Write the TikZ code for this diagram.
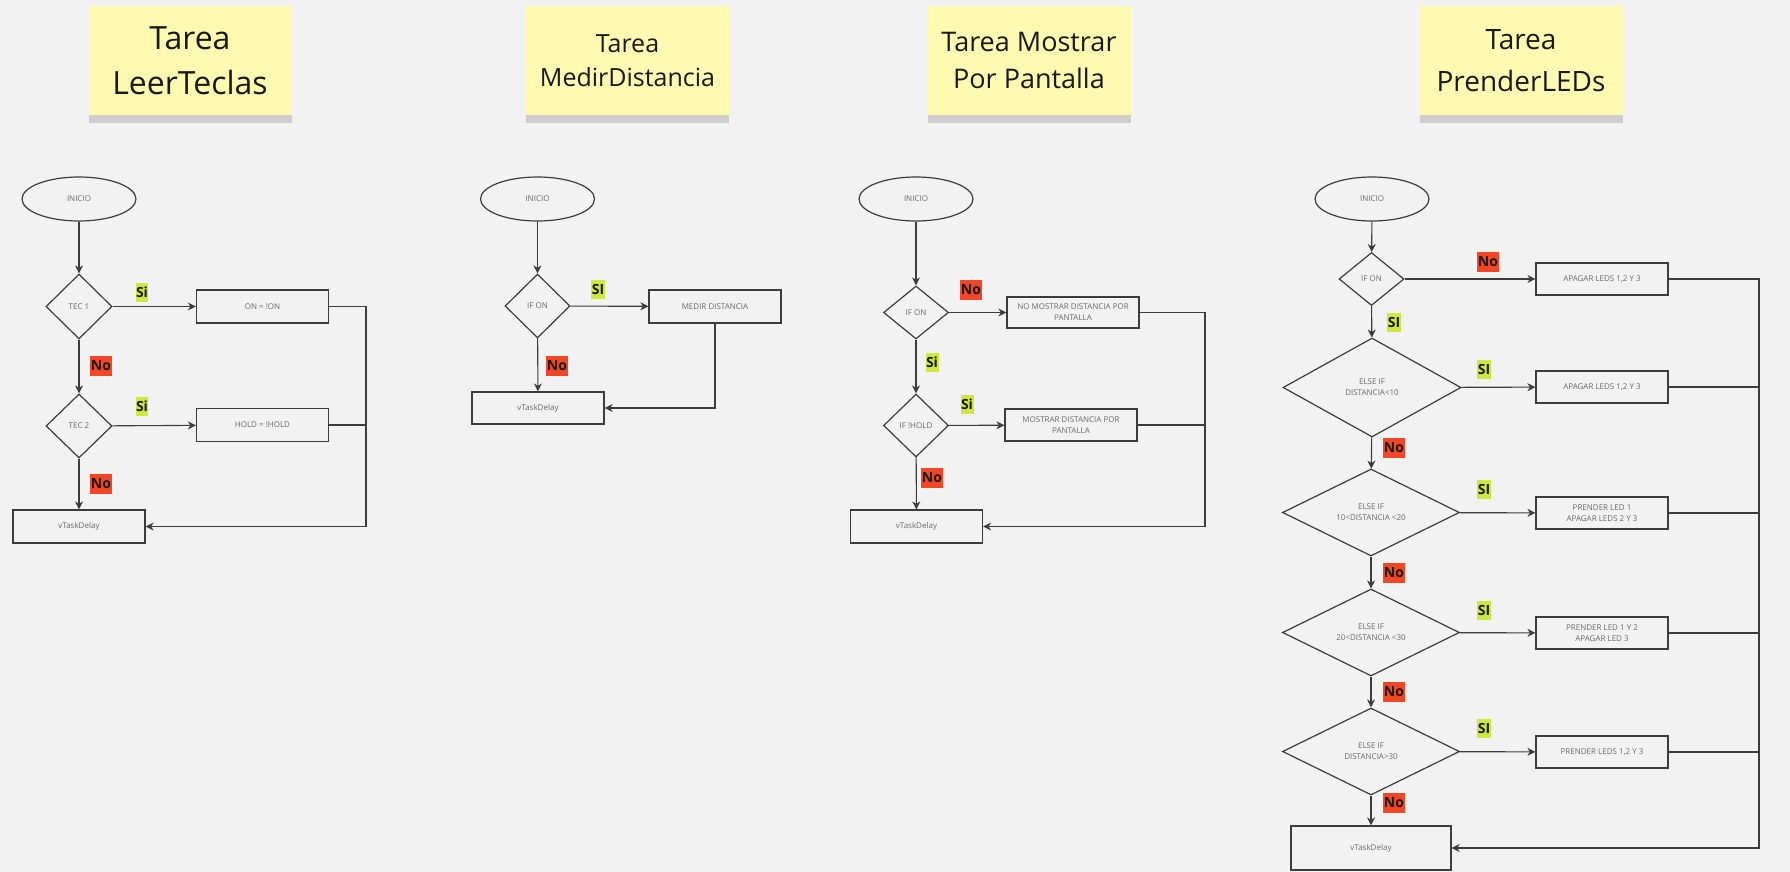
\documentclass[tikz,border=0pt]{standalone}
\usepackage{fontspec}
\setmainfont{Open Sans}
\usetikzlibrary{shapes.geometric, arrows.meta, shadows}

\definecolor{bgc}{HTML}{F2F2F2}
\definecolor{linec}{HTML}{3C3C3C}
\definecolor{textc}{HTML}{6A6A6A}
\definecolor{notey}{HTML}{FFF9B1}
\definecolor{sigreen}{HTML}{CEE741}
\definecolor{nored}{HTML}{F24726}

\newcommand\boxfont{\fontsize{8}{11}\selectfont}
\newcommand\tagfont{\fontsize{14}{16}\selectfont\bfseries}

\begin{document}
\begin{tikzpicture}[x = 1pt, y = -1pt,
                    startnode/.style = {ellipse, draw = linec, line width = 1.2pt, minimum width = 114pt, minimum height = 44pt, font = \boxfont, text = textc},
                    decision/.style = {diamond, aspect = 2, draw = linec, line width = 1.2pt, inner sep = 0pt, font = \boxfont, text = textc, align = center},
                    process/.style = {rectangle, draw = linec, line width = 1.2pt, minimum width = 132pt, minimum height = 33pt, inner sep = 0pt, font = \boxfont, text = textc, align = center},
                    sitag/.style = {fill = sigreen, font = \tagfont, text = black!90, inner xsep = 0.5pt, inner ysep = 0pt, minimum height = 19pt},
                    notag/.style = {fill = nored, font = \tagfont, text = black!90, inner xsep = 0.5pt, inner ysep = 0pt, minimum height = 20pt},
                    flow/.style = {draw = linec, line width = 1.1pt, -{Stealth[length = 8pt, width = 8pt, inset = 2.5pt]}},
                    link/.style = {draw = linec, line width = 1.1pt},
                    note/.style = {fill = notey, minimum width = 203pt, minimum height = 109pt, align = center, text = black!90,
                                   drop shadow = {shadow xshift = 0pt, shadow yshift = -8pt, opacity = 0.32}}]
      \fill [bgc] (0, 0) rectangle (1790, 872);
      \useasboundingbox (0, 0) rectangle (1790, 872);

      % titles
      \node [note, font = \fontsize{32}{45}\selectfont] (N1) at (190, 60.5) {Tarea\\LeerTeclas};
      \node [note, font = \fontsize{25}{34}\selectfont] (N2) at (627.5, 60.5) {Tarea\\MedirDistancia};
      \node [note, font = \fontsize{27}{37}\selectfont] (N3) at (1029, 60.5) {Tarea Mostrar\\Por Pantalla};
      \node [note, font = \fontsize{28}{42}\selectfont] (N4) at (1521, 60.5) {Tarea\\PrenderLEDs};

      % LeerTeclas
      \node [startnode] (S1) at (79, 199) {INICIO};
      \node [decision, minimum width = 66pt, minimum height = 65pt] (D1) at (79, 306.5) {TEC 1};
      \node [process] (P1) at (262.5, 306.5) {ON = !ON};
      \node [decision, minimum width = 66pt, minimum height = 64pt] (D2) at (79, 426) {TEC 2};
      \node [process] (P2) at (262.5, 425) {HOLD = !HOLD};
      \node [process] (E1) at (79, 526.5) {vTaskDelay};
      \coordinate (J1) at (366, 306.5);
      \coordinate (K1) at (366, 526.5);

      \node [sitag] (L1) at (142, 292) {Si};
      \node [notag] (L2) at (101, 366) {No};
      \node [sitag] (L3) at (142, 406) {Si};
      \node [notag] (L4) at (101, 484) {No};

      \draw [flow] (S1) -- (D1);
      \draw [flow] (D1) -- (P1);
      \draw [flow] (D1) -- (D2);
      \draw [flow] (D2) -- (P2);
      \draw [flow] (D2) -- (E1);
      \draw [flow] (P1) -- (J1) -- (K1) -- (E1);
      \draw [link] (P2) -- (P2 -| J1);

      % MedirDistancia
      \node [startnode] (S2) at (537.5, 199) {INICIO};
      \node [decision, minimum width = 65pt, minimum height = 64pt] (D3) at (537.5, 306) {IF ON};
      \node [process] (P3) at (715, 306.5) {MEDIR DISTANCIA};
      \node [process, minimum height = 32pt] (E2) at (538, 408) {vTaskDelay};

      \node [sitag] (L5) at (598, 289) {SI};
      \node [notag] (L6) at (557, 366) {No};

      \draw [flow] (S2) -- (D3);
      \draw [flow] (D3) -- (P3);
      \draw [flow] (D3) -- (E2);
      \draw [flow] (P3) |- (E2);

      % Mostrar Por Pantalla
      \node [startnode] (S3) at (916, 199) {INICIO};
      \node [decision, minimum width = 65pt, minimum height = 53pt] (D4) at (916, 312.5) {IF ON};
      \node [process, minimum height = 31pt] (P4) at (1073, 312.5) {NO MOSTRAR DISTANCIA POR\\PANTALLA};
      \node [decision, minimum width = 65pt, minimum height = 63pt] (D5) at (916, 425.5) {IF !HOLD};
      \node [process, minimum height = 32pt] (P5) at (1071, 425) {MOSTRAR DISTANCIA POR\\PANTALLA};
      \node [process] (E3) at (916.5, 526.5) {vTaskDelay};
      \coordinate (J3) at (1205, 312.5);
      \coordinate (K3) at (1205, 526.5);

      \node [notag] (L7) at (971, 290) {No};
      \node [sitag] (L8) at (932, 362) {Si};
      \node [sitag] (L9) at (967, 404) {Si};
      \node [notag] (L10) at (932, 478) {No};

      \draw [flow] (S3) -- (D4);
      \draw [flow] (D4) -- (P4);
      \draw [flow] (D4) -- (D5);
      \draw [flow] (D5) -- (P5);
      \draw [flow] (D5) -- (E3);
      \draw [flow] (P4) -- (J3) -- (K3) -- (E3);
      \draw [link] (P5) -- (P5 -| J3);

      % PrenderLEDs
      \node [startnode] (S4) at (1372, 199) {INICIO};
      \node [decision, minimum width = 65pt, minimum height = 53pt] (D6) at (1371.5, 279) {IF ON};
      \node [process, minimum height = 32pt] (P6) at (1602, 279) {APAGAR LEDS 1,2 Y 3};
      \node [decision, minimum width = 178pt, minimum height = 99pt] (D7) at (1372, 387.5) {ELSE IF\\DISTANCIA<10};
      \node [process, minimum height = 32pt] (P7) at (1602, 387) {APAGAR LEDS 1,2 Y 3};
      \node [decision, minimum width = 177pt, minimum height = 87pt] (D8) at (1371, 512.5) {ELSE IF\\10<DISTANCIA <20};
      \node [process, minimum height = 32pt] (P8) at (1602, 513) {PRENDER LED 1\\APAGAR LEDS 2 Y 3};
      \node [decision, minimum width = 177pt, minimum height = 87pt] (D9) at (1371, 632.5) {ELSE IF\\20<DISTANCIA <30};
      \node [process, minimum height = 32pt] (P9) at (1602, 633) {PRENDER LED 1 Y 2\\APAGAR LED 3};
      \node [decision, minimum width = 177pt, minimum height = 87pt] (D10) at (1371, 751.5) {ELSE IF\\DISTANCIA>30};
      \node [process, minimum height = 32pt] (P10) at (1602, 752) {PRENDER LEDS 1,2 Y 3};
      \node [process, minimum width = 160pt, minimum height = 44pt] (E4) at (1371, 848) {vTaskDelay};
      \coordinate (J4) at (1759, 279);
      \coordinate (K4) at (1759, 848);

      \node [notag] (L11) at (1488, 262) {No};
      \node [sitag] (L12) at (1394, 322) {SI};
      \node [sitag] (L13) at (1484, 369) {SI};
      \node [notag] (L14) at (1394, 448) {No};
      \node [sitag] (L15) at (1484, 489) {SI};
      \node [notag] (L16) at (1394, 573) {No};
      \node [sitag] (L17) at (1484, 610) {SI};
      \node [notag] (L18) at (1394, 692) {No};
      \node [sitag] (L19) at (1484, 728) {SI};
      \node [notag] (L20) at (1394, 803) {No};

      \draw [flow] (S4) -- (D6);
      \draw [flow] (D6) -- (P6);
      \draw [flow] (D6) -- (D7);
      \draw [flow] (D7) -- (P7);
      \draw [flow] (D7) -- (D8);
      \draw [flow] (D8) -- (P8);
      \draw [flow] (D8) -- (D9);
      \draw [flow] (D9) -- (P9);
      \draw [flow] (D9) -- (D10);
      \draw [flow] (D10) -- (P10);
      \draw [flow] (D10) -- (E4);
      \draw [flow] (P6) -- (J4) -- (K4) -- (E4);
      \draw [link] (P7) -- (P7 -| J4);
      \draw [link] (P8) -- (P8 -| J4);
      \draw [link] (P9) -- (P9 -| J4);
      \draw [link] (P10) -- (P10 -| J4);
\end{tikzpicture}
\end{document}
